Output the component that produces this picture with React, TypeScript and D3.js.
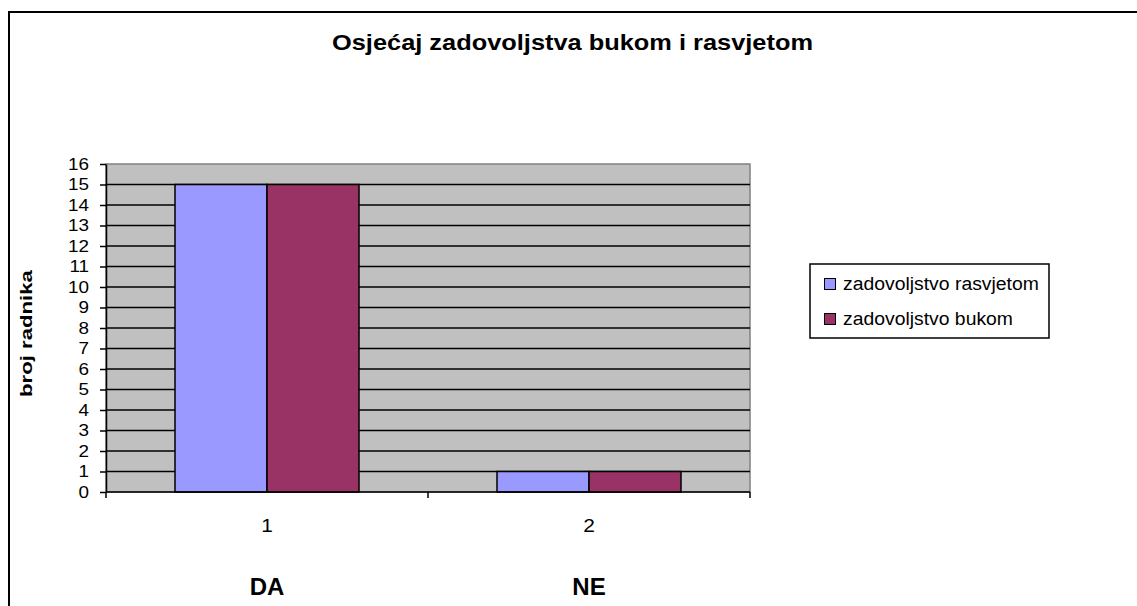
import React, { useEffect, useRef } from 'react';
import * as d3 from 'd3';

const CATEGORIES = ['1', '2'];
const GROUP_LABELS = ['DA', 'NE'];
const SERIES = ['zadovoljstvo rasvjetom', 'zadovoljstvo bukom'];
const RASVJETA = [15, 1];
const BUKA = [15, 1];
const Y_TICKS = d3.range(0, 17);
const COLORS = ['#9999FF', '#993366'];
const LEGEND_WIDTHS = [196, 170];

const W = 1137;
const H = 606;

// stretch a text horizontally (in its own frame) so it spans `target` px
function fit(sel: any, x: number, y: number, target: number, rotate = 0) {
  const len = (sel.node() as SVGTextElement).getComputedTextLength();
  const k = len > 0 ? target / len : 1;
  sel.attr('transform', `translate(${x},${y}) rotate(${rotate}) scale(${k},1)`);
}

export default function App() {
  const svgRef = useRef<SVGSVGElement | null>(null);

  useEffect(() => {
    const svg = d3.select(svgRef.current);
    svg.selectAll('*').remove();

    const margin = { top: 164, left: 106, right: 750, bottom: 492 };
    const font = 'Liberation Sans, Arial, sans-serif';

    // outer frame (only top and left visible)
    svg.append('rect')
      .attr('x', 9).attr('y', 12)
      .attr('width', W + 20).attr('height', H + 20)
      .attr('fill', 'white')
      .attr('stroke', '#000')
      .attr('stroke-width', 2);

    const x0 = d3.scaleBand().domain(CATEGORIES).range([margin.left, margin.right]);
    const x1 = d3.scaleBand().domain(SERIES).range([0, x0.bandwidth()]).paddingOuter(0.75);
    const y = d3.scaleLinear().domain([0, 16]).range([margin.bottom, margin.top]);

    // plot area
    svg.append('rect')
      .attr('x', margin.left).attr('y', margin.top)
      .attr('width', margin.right - margin.left)
      .attr('height', margin.bottom - margin.top)
      .attr('fill', '#C0C0C0')
      .attr('stroke', '#808080')
      .attr('stroke-width', 1.5);

    // grid lines
    svg.append('g')
      .selectAll('line')
      .data(Y_TICKS.filter(d => d > 0 && d < 16))
      .enter().append('line')
      .attr('x1', margin.left).attr('x2', margin.right)
      .attr('y1', d => y(d)).attr('y2', d => y(d))
      .attr('stroke', '#000').attr('stroke-width', 1.5);

    // bars
    const data = [RASVJETA, BUKA];
    CATEGORIES.forEach((c, ci) => {
      SERIES.forEach((s, si) => {
        const v = data[si][ci];
        svg.append('rect')
          .attr('x', (x0(c) as number) + (x1(s) as number))
          .attr('y', y(v))
          .attr('width', x1.bandwidth())
          .attr('height', y(0) - y(v))
          .attr('fill', COLORS[si])
          .attr('stroke', '#000')
          .attr('stroke-width', 1.5);
      });
    });

    // y axis
    const yAxis = svg.append('g')
      .attr('transform', `translate(${margin.left},0)`)
      .call(d3.axisLeft(y).tickValues(Y_TICKS).tickSize(6).tickFormat(() => '').tickSizeOuter(0));
    yAxis.select('.domain').attr('stroke', '#000').attr('stroke-width', 1.5);
    yAxis.selectAll('.tick line').attr('stroke', '#000').attr('stroke-width', 1.5);
    svg.append('g')
      .selectAll('text')
      .data(Y_TICKS)
      .enter().append('text')
      .attr('transform', d => `translate(89,${y(d)}) scale(1.18,1)`)
      .attr('dy', '0.36em')
      .attr('text-anchor', 'end')
      .attr('font-family', font).attr('font-size', 16)
      .text(d => d);

    // x axis
    const xAxis = svg.append('g')
      .attr('transform', `translate(0,${margin.bottom})`);
    xAxis.append('line')
      .attr('x1', margin.left).attr('x2', margin.right)
      .attr('stroke', '#000').attr('stroke-width', 1.5);
    const bounds = [margin.left, ...CATEGORIES.slice(1).map(c => x0(c) as number), margin.right];
    xAxis.selectAll('.tk')
      .data(bounds)
      .enter().append('line')
      .attr('x1', d => d).attr('x2', d => d)
      .attr('y1', 0).attr('y2', 6)
      .attr('stroke', '#000').attr('stroke-width', 1.5);
    xAxis.selectAll('.lbl')
      .data(CATEGORIES)
      .enter().append('text')
      .attr('transform', d => `translate(${(x0(d) as number) + x0.bandwidth() / 2},40) scale(1.1,1)`)
      .attr('text-anchor', 'middle')
      .attr('font-family', font).attr('font-size', 19)
      .text(d => d);

    svg.selectAll('.grp')
      .data(GROUP_LABELS)
      .enter().append('text')
      .attr('x', (d, i) => (x0(CATEGORIES[i]) as number) + x0.bandwidth() / 2)
      .attr('y', 595)
      .attr('text-anchor', 'middle')
      .attr('font-family', font).attr('font-size', 24).attr('font-weight', 'bold')
      .text(d => d);

    // title
    const title = svg.append('text')
      .attr('font-family', font).attr('font-size', 22).attr('font-weight', 'bold')
      .text('Osjećaj zadovoljstva bukom i rasvjetom');
    fit(title, 332, 50, 481);

    // y label
    const ylab = svg.append('text')
      .attr('font-family', font).attr('font-size', 16).attr('font-weight', 'bold')
      .text('broj radnika');
    fit(ylab, 32, 397, 127, -90);

    // legend
    const lg = svg.append('g').attr('transform', 'translate(810,264)');
    lg.append('rect')
      .attr('width', 239).attr('height', 74)
      .attr('fill', 'white').attr('stroke', '#000').attr('stroke-width', 1.5);
    SERIES.forEach((s, i) => {
      lg.append('rect')
        .attr('x', 14.5).attr('y', 14.5 + i * 35)
        .attr('width', 11).attr('height', 11)
        .attr('fill', COLORS[i]).attr('stroke', '#000').attr('stroke-width', 1);
      const t = lg.append('text')
        .attr('font-family', font).attr('font-size', 18)
        .text(s);
      fit(t, 33, 26 + i * 35, LEGEND_WIDTHS[i]);
    });
  }, []);

  return (
    <svg ref={svgRef} width={W} height={H}
      style={{ position: 'absolute', left: 0, top: 0, background: 'white' }} />
  );
}
